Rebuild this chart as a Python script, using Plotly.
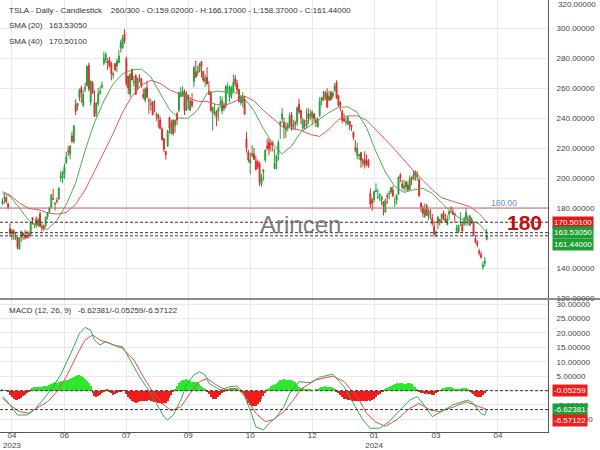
import plotly.graph_objects as go

# ---------------- data ----------------
opens = [
183.0, 186.3, 187.2, 182.7, 166.2, 163.2, 164.7, 159.8, 160.3, 152.6,
160.9, 163.2, 161.9, 160.0, 163.0, 162.7, 173.7, 168.9, 172.6, 168.7,
176.1, 167.7, 168.0, 168.5, 174.2, 177.2, 180.7, 186.2, 182.5, 184.9,
186.0, 200.1, 199.8, 202.6, 210.2, 217.8, 216.1, 228.0, 224.2, 249.1,
247.9, 253.5, 260.2, 248.4, 258.9, 261.5, 275.1, 250.6, 263.3, 250.1,
243.2, 249.7, 256.7, 260.6, 276.5, 278.8, 278.1, 278.4, 276.5, 268.6,
276.3, 274.6, 277.0, 286.6, 286.6, 296.0, 279.6, 268.0, 255.9, 272.4,
263.7, 268.3, 259.9, 267.5, 266.3, 255.5, 252.0, 260.0, 251.5, 248.8,
250.9, 245.4, 241.8, 242.2, 238.7, 232.7, 226.1, 217.8, 221.6, 240.3,
229.3, 238.7, 235.0, 242.6, 245.1, 254.2, 254.8, 257.3, 245.0, 255.1,
245.1, 251.2, 264.3, 270.8, 270.1, 271.3, 277.6, 271.2, 264.4, 267.0,
257.9, 257.4, 243.4, 242.9, 244.3, 244.3, 250.1, 244.8, 248.6, 248.1,
260.0, 253.9, 255.3, 257.8, 266.2, 262.9, 258.9, 250.1, 250.6, 252.7,
226.0, 217.0, 210.0, 215.0, 215.9, 211.3, 210.6, 209.3, 196.1, 204.0,
212.0, 221.2, 223.9, 223.1, 223.2, 206.2, 210.6, 215.6, 235.0, 239.3,
236.9, 232.0, 234.0, 235.0, 242.0, 233.8, 236.9, 236.9, 249.2, 245.1,
233.1, 235.8, 234.4, 242.9, 241.6, 240.3, 242.7, 238.6, 234.2, 241.6,
251.2, 253.8, 253.5, 256.4, 251.9, 256.8, 254.5, 258.4, 263.7, 255.1,
250.1, 244.3, 239.3, 236.9, 236.1, 237.5, 235.1, 230.6, 220.1, 215.1,
214.9, 216.9, 209.9, 212.3, 211.3, 211.9, 189.7, 185.5, 185.6, 190.7,
187.0, 188.5, 185.0, 184.3, 177.2, 188.2, 189.4, 190.5, 192.1, 183.9,
185.3, 189.2, 202.1, 196.1, 193.4, 194.0, 195.3, 192.3, 200.4, 199.0,
204.2, 200.5, 198.7, 183.1, 179.9, 174.4, 181.5, 174.3, 177.8, 173.1,
167.8, 163.2, 170.0, 172.4, 173.0, 176.4, 173.0, 168.8, 175.9, 179.9,
177.5, 176.2, 164.8, 164.0, 170.3, 169.1, 169.3, 172.9, 172.6, 168.3,
172.3, 170.2, 159.6, 156.9, 151.3, 149.0, 140.6, 143.3, 159.02,
]
highs = [
186.5, 189.7, 187.7, 183.5, 169.7, 166.0, 165.7, 163.5, 160.7, 160.5,
165.0, 163.3, 165.5, 165.0, 164.3, 170.8, 173.8, 169.8, 174.4, 173.6,
177.4, 169.8, 169.0, 174.5, 177.1, 180.9, 189.3, 192.9, 184.2, 187.0,
193.7, 204.5, 205.0, 209.8, 217.3, 221.3, 221.9, 230.8, 235.2, 252.4,
250.0, 259.7, 261.6, 258.9, 263.6, 274.8, 276.9, 265.0, 264.7, 258.4,
250.4, 259.9, 261.2, 264.5, 284.3, 283.9, 279.9, 280.8, 277.5, 270.9,
276.5, 279.5, 285.3, 292.2, 295.3, 299.3, 280.9, 268.0, 269.9, 272.9,
268.0, 269.1, 267.2, 269.1, 266.5, 259.5, 260.5, 264.8, 253.6, 252.9,
251.0, 251.8, 243.8, 243.0, 240.9, 233.8, 226.7, 217.8, 232.1, 240.8,
238.9, 238.9, 238.9, 244.1, 257.2, 260.5, 261.2, 259.1, 258.0, 255.4,
253.6, 256.5, 274.9, 278.4, 274.9, 276.7, 278.0, 271.4, 269.0, 273.9,
264.4, 257.8, 247.4, 249.6, 245.3, 247.6, 254.8, 254.3, 250.2, 261.9,
263.6, 261.7, 261.4, 268.9, 268.6, 265.4, 259.6, 255.4, 257.2, 254.6,
230.6, 218.9, 216.9, 222.0, 220.1, 214.8, 212.4, 210.9, 202.8, 205.9,
219.0, 226.4, 226.3, 224.8, 224.8, 219.6, 215.4, 225.4, 238.1, 246.7,
240.2, 237.4, 237.1, 243.6, 244.0, 238.8, 238.3, 247.7, 252.8, 245.2,
240.2, 239.0, 246.3, 246.6, 245.6, 245.3, 243.4, 240.5, 240.3, 253.9,
254.1, 258.0, 258.3, 259.8, 258.2, 258.2, 257.9, 263.3, 265.1, 255.2,
251.3, 245.7, 242.7, 240.1, 241.3, 238.2, 235.5, 230.9, 225.3, 223.5,
215.7, 217.4, 213.2, 217.8, 215.7, 212.7, 193.0, 186.8, 191.5, 196.4,
193.0, 189.9, 188.0, 184.4, 186.5, 189.8, 191.6, 194.1, 194.7, 187.1,
188.9, 200.9, 203.2, 198.7, 198.7, 198.3, 197.6, 201.8, 200.9, 205.3,
204.9, 204.5, 199.8, 184.0, 181.6, 183.0, 182.7, 179.4, 179.4, 176.0,
171.2, 165.2, 174.7, 172.8, 176.3, 178.2, 176.3, 175.2, 178.2, 181.2,
179.6, 176.8, 168.8, 168.8, 177.2, 170.9, 174.2, 179.8, 175.0, 175.5,
173.8, 170.7, 161.6, 158.5, 152.9, 150.9, 144.4, 147.3, 166.17,
]
lows = [
182.0, 182.7, 183.0, 179.1, 160.6, 158.8, 158.8, 158.5, 152.4, 152.4,
157.3, 158.8, 158.9, 159.9, 159.9, 161.5, 168.9, 166.6, 166.7, 168.0,
167.2, 164.3, 164.9, 167.2, 172.5, 176.9, 180.1, 185.3, 178.2, 183.0,
185.5, 197.5, 196.5, 199.4, 209.4, 214.5, 212.5, 223.3, 223.0, 242.0,
245.0, 251.3, 250.2, 247.3, 257.2, 261.1, 257.8, 248.3, 256.1, 240.7,
240.9, 248.0, 255.3, 259.6, 275.1, 276.9, 272.1, 273.8, 265.1, 266.4,
271.5, 270.6, 276.3, 283.6, 286.0, 289.5, 261.2, 255.8, 254.1, 265.0,
261.0, 255.3, 258.2, 263.8, 260.2, 252.5, 250.3, 253.1, 242.8, 245.0,
241.9, 243.7, 238.0, 233.5, 232.6, 225.0, 217.3, 212.4, 220.6, 229.6,
229.3, 228.2, 230.2, 235.4, 244.0, 254.1, 254.1, 242.0, 244.9, 245.6,
245.0, 246.7, 260.6, 266.6, 268.1, 270.4, 267.0, 263.8, 260.6, 262.5,
255.6, 244.5, 231.6, 241.7, 234.6, 238.1, 246.4, 242.6, 244.5, 246.3,
256.3, 250.7, 252.9, 257.0, 260.9, 256.6, 250.2, 248.5, 247.1, 242.1,
216.8, 210.4, 202.5, 213.5, 212.2, 204.9, 205.8, 194.7, 194.1, 198.2,
210.4, 218.4, 215.0, 217.6, 217.6, 206.0, 205.7, 211.6, 226.0, 236.5,
226.3, 226.6, 231.0, 233.3, 231.4, 232.3, 232.1, 234.7, 242.8, 236.0,
231.9, 232.6, 233.0, 236.0, 238.4, 235.2, 237.4, 233.9, 233.6, 240.8,
248.4, 251.6, 251.7, 247.0, 251.4, 251.4, 252.9, 257.5, 252.7, 247.4,
244.4, 236.3, 237.7, 234.9, 235.3, 232.0, 231.3, 225.4, 217.1, 212.6,
212.0, 206.8, 207.6, 206.3, 207.8, 206.8, 180.1, 178.2, 183.7, 190.5,
185.9, 184.5, 182.0, 175.0, 177.1, 182.7, 185.8, 189.1, 187.4, 180.7,
182.3, 188.8, 197.2, 192.4, 191.0, 191.4, 191.5, 192.0, 195.3, 198.4,
198.2, 198.3, 187.4, 177.3, 173.7, 173.4, 174.7, 172.1, 172.4, 168.2,
161.0, 160.8, 165.9, 168.2, 170.2, 171.8, 170.6, 168.7, 172.1, 176.4,
175.3, 170.3, 163.3, 163.3, 168.0, 163.5, 168.1, 168.2, 168.5, 168.0,
169.4, 161.4, 156.3, 153.8, 148.4, 146.2, 138.8, 141.1, 158.37,
]
closes = [
185.0, 187.0, 184.3, 180.6, 163.0, 165.1, 162.6, 160.7, 153.8, 160.2,
164.3, 161.8, 160.3, 160.6, 161.2, 170.1, 171.8, 169.2, 168.5, 172.1,
168.0, 166.4, 166.5, 173.9, 176.9, 180.1, 188.9, 185.8, 182.9, 184.5,
193.2, 201.2, 203.9, 207.5, 214.0, 217.6, 221.3, 224.6, 234.9, 244.4,
249.8, 258.7, 256.8, 255.9, 260.5, 274.5, 259.5, 264.6, 256.6, 241.1,
250.2, 256.2, 257.5, 261.8, 279.8, 282.5, 276.5, 274.4, 269.6, 269.8,
272.0, 277.9, 281.4, 290.4, 293.3, 291.3, 262.9, 260.0, 269.1, 265.3,
264.4, 255.7, 266.4, 267.4, 261.1, 254.1, 259.3, 253.9, 251.5, 249.7,
242.2, 245.3, 242.7, 239.8, 233.0, 225.6, 219.2, 215.5, 231.3, 233.2,
236.9, 230.0, 238.6, 238.8, 257.2, 256.9, 258.1, 245.0, 256.5, 251.9,
251.5, 248.5, 273.6, 267.5, 271.3, 276.0, 274.4, 265.3, 266.5, 262.6,
255.7, 244.9, 247.0, 244.1, 240.5, 246.4, 250.2, 251.6, 246.5, 261.2,
260.1, 260.5, 259.7, 263.6, 263.0, 258.9, 251.1, 253.9, 254.9, 242.7,
220.1, 212.0, 212.1, 216.5, 212.4, 205.8, 207.3, 197.4, 200.8, 205.7,
218.5, 220.0, 219.3, 222.2, 222.1, 210.0, 214.7, 223.7, 237.4, 242.8,
233.6, 234.3, 235.6, 241.2, 234.2, 235.5, 236.1, 246.7, 244.1, 240.1,
238.8, 235.6, 238.7, 239.4, 242.6, 243.8, 239.7, 237.0, 239.3, 251.1,
253.5, 252.1, 257.2, 247.1, 254.5, 252.5, 256.6, 261.4, 253.2, 248.5,
248.4, 238.5, 237.9, 237.5, 240.5, 235.0, 233.9, 227.2, 218.9, 219.9,
215.6, 211.9, 212.2, 208.8, 209.1, 207.8, 182.6, 183.3, 190.9, 191.6,
187.3, 188.9, 187.9, 181.1, 185.1, 187.6, 189.6, 193.6, 188.1, 184.0,
188.7, 200.5, 200.0, 193.8, 194.8, 197.4, 192.0, 199.4, 199.7, 202.0,
201.9, 202.6, 188.1, 180.7, 176.5, 178.7, 175.3, 177.8, 177.5, 169.5,
162.5, 163.6, 173.8, 171.3, 175.7, 172.8, 170.8, 172.6, 177.7, 179.8,
175.8, 175.2, 166.6, 168.4, 171.1, 164.9, 173.0, 176.9, 171.8, 174.6,
171.1, 161.5, 157.1, 155.5, 149.9, 147.1, 142.1, 144.7, 161.44,
]

sma_x = [0, 4, 9, 14, 19, 24, 29, 34, 39, 44, 49, 54, 59, 64, 69, 74, 79, 84,
         89, 94, 99, 104, 109, 114, 119, 124, 129, 134, 139, 144, 149, 154,
         159, 164, 169, 174, 179, 184, 189, 194, 199, 204, 209, 214, 219, 224,
         229, 234, 239, 244, 249, 254, 258]
sma20 = [189.7, 187.8, 180.0, 171.7, 168.1, 165.7, 171.7, 182.3, 196.8, 218.3,
         237.0, 251.3, 262.8, 269.5, 272.1, 272.6, 267.4, 256.8, 245.6, 239.9,
         239.9, 245.4, 256.4, 257.9, 257.3, 257.0, 252.8, 244.9, 232.9, 222.7,
         216.0, 221.3, 230.6, 235.3, 239.4, 243.6, 247.1, 247.5, 243.7, 233.4,
         217.6, 204.0, 194.4, 190.4, 192.1, 193.1, 189.8, 183.3, 177.5, 172.8,
         171.9, 169.4, 163.5305]
sma40 = [190.9, 188.6, 183.3, 179.7, 178.9, 176.7, 175.9, 177.0, 182.5, 192.0,
         204.4, 216.8, 229.8, 243.9, 254.6, 261.9, 265.1, 263.1, 258.8, 256.2,
         253.6, 251.1, 251.0, 248.9, 248.6, 251.2, 254.6, 251.4, 245.1, 239.8,
         234.4, 233.1, 231.8, 229.0, 227.7, 232.5, 238.9, 241.4, 241.5, 238.5,
         232.4, 225.7, 219.0, 211.9, 204.8, 198.5, 192.1, 186.8, 184.8, 182.9,
         180.9, 176.3, 170.501]

macd_x = [0, 2, 6, 8, 13, 16, 20, 23, 27, 31, 34, 38, 41, 44, 47, 49, 52, 55,
          59, 64, 68, 73, 79, 82, 86, 88, 91, 95, 98, 102, 105, 108, 110, 116,
          121, 125, 128, 132, 135, 139, 142, 146, 150, 153, 158, 164, 169, 176,
          182, 187, 192, 196, 201, 206, 212, 217, 221, 224, 229, 235, 240, 245,
          248, 251, 255, 257, 258]
macd_line = [-2.1, -3.3, -6.8, -8.5, -8.5, -7.3, -4.5, -2.1, 1.3, 5.4,
             9.4, 15.2, 19.9, 21.9, 21.0, 17.5, 15.8, 17.0, 15.8, 15.2,
             10.6, 4.8, -1.0, -4.5, -9.1, -10.2, -8.5, -3.3, 1.9, 5.4,
             6.5, 5.4, 2.5, 0.2, 1.3, 1.6, -0.4, -6.8, -12.6, -13.7,
             -11.4, -9.1, -5.6, -1.0, 3.1, 2.7, 4.6, 5.7, 1.3, -4.5,
             -10.2, -13.1, -13.1, -10.8, -6.8, -3.3, -2.1, -4.5, -9.1, -6.8,
             -5.0, -3.9, -3.3, -4.5, -8.0, -8.6, -6.62381]
signal_x = [0, 4, 9, 14, 18, 24, 29, 34, 40, 44, 48, 52, 57, 64, 70, 75, 80,
            86, 90, 95, 100, 105, 109, 114, 119, 125, 130, 135, 140, 144, 150,
            155, 159, 167, 176, 182, 189, 194, 199, 204, 210, 217, 222, 228,
            233, 240, 247, 253, 258]
signal_line = [-2.7, -5.0, -7.3, -7.9, -6.2, -3.9, -0.4, 4.8, 12.8, 17.5,
               19.3, 17.5, 16.4, 14.6, 10.6, 4.8, -0.4, -5.0, -7.0, -5.6,
               -1.0, 3.1, 4.2, 1.9, 0.2, 0.8, -2.7, -7.9, -10.8, -10.2,
               -7.3, -3.3, 0.5, 3.7, 5.0, 3.1, -2.1, -7.9, -11.0, -12.4,
               -10.2, -6.2, -4.5, -6.8, -7.3, -5.8, -3.9, -5.4, -6.57122]
macd_hist = [
0.2, 0.1, 0.0, -0.5, -1.5, -2.4, -3.0, -3.3, -3.3, -3.0,
-2.6, -2.0, -1.5, -0.9, -0.4, 0.3, 0.8, 1.1, 1.2, 1.3,
1.2, 1.3, 1.5, 1.6, 1.5, 1.8, 2.3, 2.5, 2.8, 2.6,
2.9, 3.2, 3.0, 3.4, 3.7, 3.5, 3.9, 4.3, 4.6, 5.0,
5.5, 5.3, 4.9, 4.6, 4.0, 3.4, 2.5, 1.4, -0.8, -1.8,
-2.1, -2.0, -1.5, -0.8, -0.3, 0.2, 0.3, -0.5, -1.0, -1.4,
-1.3, -1.0, -0.6, -0.2, 0.1, -0.1, -1.2, -2.2, -3.0, -3.6,
-4.0, -4.2, -4.0, -3.7, -3.5, -3.6, -3.8, -3.6, -3.4, -3.5,
-3.7, -3.9, -4.1, -4.3, -4.5, -4.6, -4.4, -4.2, -3.5, -2.6,
-1.6, -0.6, 0.4, 1.5, 2.6, 3.3, 3.7, 3.8, 3.9, 3.6,
3.2, 3.0, 2.9, 3.1, 2.8, 2.2, 1.6, 1.0, 0.4, -0.4,
-1.2, -2.2, -2.9, -3.1, -2.8, -2.3, -1.6, -0.8, -0.2, 0.3,
0.6, 0.8, 0.9, 0.8, 0.7, 0.4, 0.1, -0.3, -0.8, -1.6,
-3.0, -4.2, -5.0, -5.4, -5.5, -5.3, -4.8, -4.0, -3.0, -1.9,
-0.9, 0.2, 0.9, 1.5, 1.8, 2.0, 2.4, 3.0, 3.5, 3.8,
3.9, 3.7, 3.6, 3.8, 3.7, 3.3, 2.8, 2.0, 1.3, 0.9,
0.8, 0.7, 0.6, 0.5, 0.4, 0.1, 0.0, 0.2, 0.6, 0.9,
1.1, 1.3, 1.4, 1.3, 1.2, 1.1, 1.0, 0.6, -0.3, -0.9,
-1.6, -2.3, -2.8, -3.1, -3.3, -3.4, -3.5, -3.6, -3.7, -3.6,
-3.5, -3.5, -3.6, -3.7, -3.6, -3.4, -3.7, -3.3, -2.8, -2.2,
-1.6, -1.1, -0.6, -0.2, 0.3, 0.8, 1.3, 1.7, 2.0, 2.3,
2.5, 2.4, 2.6, 2.5, 2.3, 2.4, 2.6, 2.5, 2.2, 1.7,
1.1, 0.5, -0.3, -0.7, -1.0, -1.1, -1.0, -1.1, -1.3, -1.5,
-1.4, -0.8, -0.2, 0.1, 0.4, 0.8, 1.0, 1.2, 1.3, 1.2,
1.0, 0.7, 0.5, 0.6, 0.7, 0.8, 0.9, 0.8, 0.5, -0.2,
-0.7, -1.3, -1.8, -2.2, -2.4, -2.3, -1.6, -0.8, -0.05259,
]

tick_bars = [5, 33, 66, 99, 132, 165, 198, 231, 264]
tick_labels = ["04<br>2023", "06", "07", "09", "10", "12", "01<br>2024", "03", "04"]
price_ticks = [120, 140, 160, 180, 200, 220, 240, 260, 280, 300]
price_hidden = [160]          # tick label covered by the value boxes
macd_ticks = [-10, -5, 0, 5, 10, 15, 20, 25, 30]
macd_hidden = [0]             # tick label covered by the value boxes
level_180 = 180.0

assert len(opens) == len(highs) == len(lows) == len(closes) == len(macd_hist)
assert len(sma_x) == len(sma20) == len(sma40)
assert len(macd_x) == len(macd_line) and len(signal_x) == len(signal_line)

bars = list(range(len(closes)))

# ---------------- style ----------------
FONT = "Liberation Sans, Arial, sans-serif"
UP = "#24a03c"
DN = "#e02a2a"
GRID = "#e9e9e9"
AXIS = "#555555"
W, H = 600, 450
XDOM = 548 / W
MAIN_DOM = [1 - 298 / H, 1.0]
MACD_DOM = [1 - 432 / H, 1 - 300 / H]
X_RANGE = [-1.33, 290.67]
NB = "\u00a0"

fig = go.Figure()
fig.add_trace(go.Candlestick(
    x=bars, open=opens, high=highs, low=lows, close=closes,
    increasing=dict(line=dict(color=UP, width=1), fillcolor=UP),
    decreasing=dict(line=dict(color=DN, width=1), fillcolor=DN),
    whiskerwidth=0, hoverinfo="skip", xaxis="x", yaxis="y"))
fig.add_trace(go.Scatter(x=sma_x, y=sma40, mode="lines",
                         line=dict(color="#dc5a5a", width=1), xaxis="x", yaxis="y"))
fig.add_trace(go.Scatter(x=sma_x, y=sma20, mode="lines",
                         line=dict(color="#4cae4c", width=1), xaxis="x", yaxis="y"))

hist_colors = ["#2ee82e" if v >= 0 else "#f01c1c" for v in macd_hist]
fig.add_trace(go.Bar(x=bars, y=macd_hist, marker=dict(color=hist_colors, line=dict(width=0)),
                     width=0.6, xaxis="x2", yaxis="y2"))
fig.add_trace(go.Scatter(x=signal_x, y=signal_line, mode="lines",
                         line=dict(color="#e84a4a", width=1), xaxis="x2", yaxis="y2"))
fig.add_trace(go.Scatter(x=macd_x, y=macd_line, mode="lines",
                         line=dict(color="#2fae55", width=1), xaxis="x2", yaxis="y2"))

tickfont = dict(family=FONT, size=8, color="#444444")
fig.update_layout(
    width=W, height=H, margin=dict(l=0, r=0, t=0, b=0, pad=0, autoexpand=False),
    paper_bgcolor="white", plot_bgcolor="white", showlegend=False,
    bargap=0,
    xaxis=dict(domain=[0, XDOM], anchor="y", range=X_RANGE, tickvals=tick_bars,
               ticktext=tick_labels, showticklabels=False, showgrid=True,
               gridcolor=GRID, zeroline=False, showline=False, ticks="",
               automargin=False, rangeslider=dict(visible=False)),
    xaxis2=dict(domain=[0, XDOM], anchor="y2", range=X_RANGE, matches="x",
                tickvals=tick_bars, ticktext=tick_labels, showgrid=True,
                gridcolor=GRID, zeroline=False, showline=True, linecolor=AXIS,
                linewidth=1, ticks="", tickfont=tickfont, automargin=False,
                ticklabelstandoff=-5),
    yaxis=dict(domain=MAIN_DOM, anchor="x", side="right", range=[120, 318.67],
               tickvals=price_ticks,
               ticktext=["" if v in price_hidden else f"{v:.5f}" for v in price_ticks],
               showgrid=True, gridcolor=GRID,
               zeroline=False, showline=True, linecolor=AXIS, linewidth=1,
               ticks="", ticklabelstandoff=6, tickfont=tickfont, automargin=False),
    yaxis2=dict(domain=MACD_DOM, anchor="x2", side="right", range=[-14.4, 31.43],
                tickvals=macd_ticks,
                ticktext=["" if v in macd_hidden else f"{v:.5f}" for v in macd_ticks],
                showgrid=True, gridcolor=GRID,
                zeroline=False, showline=True, linecolor=AXIS, linewidth=1,
                ticks="", ticklabelstandoff=6, tickfont=tickfont, automargin=False),
)

dash = "3px,2px"
shapes = [
    dict(type="line", xref="x domain", yref="y", x0=0, x1=1, y0=level_180, y1=level_180,
         line=dict(color="#d46464", width=1)),
    dict(type="line", xref="x domain", yref="y", x0=0, x1=1, y0=sma40[-1], y1=sma40[-1],
         line=dict(color="#333333", width=1, dash=dash)),
    dict(type="line", xref="x domain", yref="y", x0=0, x1=1, y0=sma20[-1], y1=sma20[-1],
         line=dict(color="#333333", width=1, dash=dash)),
    dict(type="line", xref="x domain", yref="y", x0=0, x1=1, y0=closes[-1], y1=closes[-1],
         line=dict(color="#333333", width=1, dash=dash)),
    dict(type="line", xref="x2 domain", yref="y2", x0=0, x1=1, y0=macd_hist[-1], y1=macd_hist[-1],
         line=dict(color="#333333", width=1, dash=dash)),
    dict(type="line", xref="x2 domain", yref="y2", x0=0, x1=1, y0=macd_line[-1], y1=macd_line[-1],
         line=dict(color="#333333", width=1, dash=dash)),
    dict(type="line", xref="paper", yref="paper", x0=0, x1=1, y0=1 - 299 / H, y1=1 - 299 / H,
         line=dict(color="#666666", width=1.5)),
]
fig.update_layout(shapes=shapes)

def txt(x_px, y_px, text, size=8, color="#333333", xanchor="left", **kw):
    return dict(xref="paper", yref="paper", x=x_px / W, y=1 - y_px / H, text=text,
                showarrow=False, xanchor=xanchor, yanchor="middle",
                font=dict(family=FONT, size=size, color=color), **kw)

def box(yref, yval, text, bg, yshift=0):
    return dict(xref="paper", yref=yref, x=552 / W, y=yval, text=text, showarrow=False,
                xanchor="left", yanchor="middle", bgcolor=bg, borderpad=1, yshift=yshift,
                font=dict(family=FONT, size=8, color="white"))

header = ("TSLA - Daily - Candlestick" + NB * 4 +
          f"260/300 - O:{opens[-1]:.5f} - H:{highs[-1]:.5f} - L:{lows[-1]:.5f} - C:{closes[-1]:.5f}")
ann = [
    txt(7, 10, header),
    txt(7, 25, "SMA (20)" + NB * 3 + f"{sma20[-1]:.5f}"),
    txt(7, 41, "SMA (40)" + NB * 3 + f"{sma40[-1]:.5f}"),
    txt(7, 310, "MACD (12, 26, 9)" + NB * 3 +
        f"{macd_line[-1]:.5f}/{macd_hist[-1]:.5f}/{signal_line[-1]:.5f}"),
    txt(556, 5, "320.00000", size=8, color="#444444"),
    txt(300, 224, "Arincen", size=24, color="rgba(90,90,90,0.8)", xanchor="center"),
    txt(524.7, 222.5, "<b>180</b>", size=21, color="#c40d0d", xanchor="center"),
    txt(504, 203, f"{level_180:.2f}", size=8.5, color="#6a8fd8", xanchor="center"),
    box("y", sma40[-1], f"{sma40[-1]:.5f}", "#e3161c"),
    box("y", sma20[-1], f"{sma20[-1]:.5f}", "#1f9e34"),
    box("y", closes[-1], f"{closes[-1]:.5f}", "#1f9e34", yshift=-9),
    box("y2", macd_hist[-1], f"{macd_hist[-1]:.5f}", "#f01c1c"),
    box("y2", macd_line[-1], f"{macd_line[-1]:.5f}", "#1f9e34"),
    box("y2", signal_line[-1], f"{signal_line[-1]:.5f}", "#f01c1c", yshift=-11),
]
fig.update_layout(annotations=ann)

fig.write_html("out.html")
